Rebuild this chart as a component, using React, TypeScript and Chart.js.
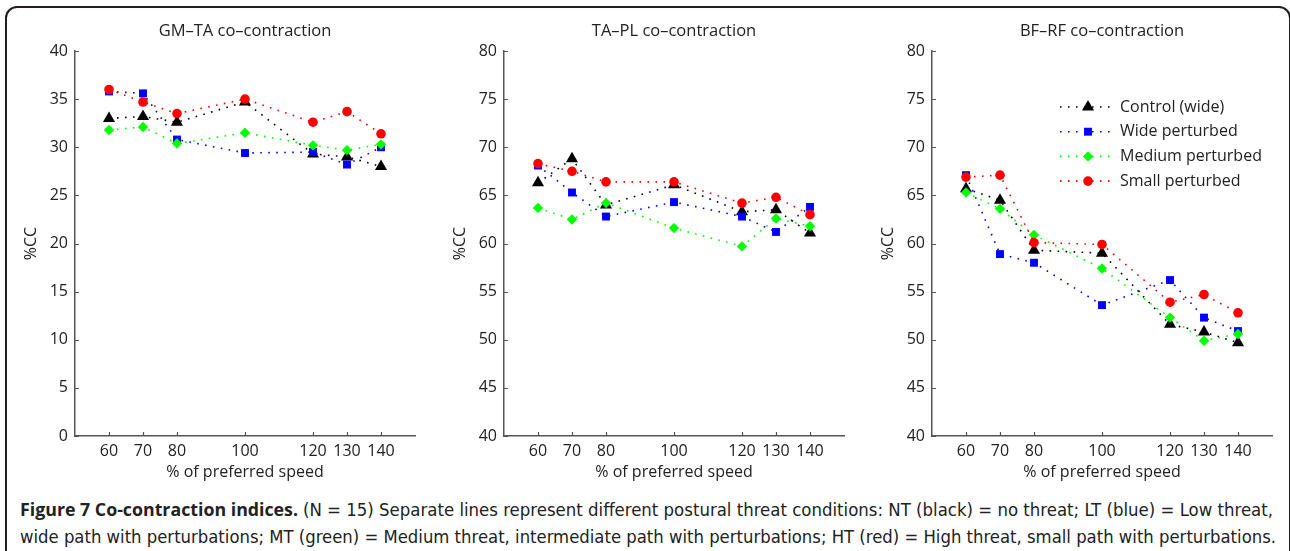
import React, { useEffect, useLayoutEffect, useRef } from 'react';
import { Chart, registerables } from 'chart.js';

Chart.register(...registerables);

// ---------- data ----------
const speeds = [60, 70, 80, 100, 120, 130, 140];
const xTickValues = [60, 70, 80, 100, 120, 130, 140];
const seriesNames = ['Control (wide)', 'Wide perturbed', 'Medium perturbed', 'Small perturbed'];
const panelTitles = ['GM\u2013TA co\u2013contraction', 'TA\u2013PL co\u2013contraction', 'BF\u2013RF co\u2013contraction'];

const gmtaControl = [33.0, 33.2, 32.6, 34.7, 29.3, 29.0, 28.0];
const gmtaWide = [35.8, 35.6, 30.8, 29.4, 29.5, 28.2, 30.0];
const gmtaMedium = [31.8, 32.1, 30.4, 31.5, 30.2, 29.7, 30.3];
const gmtaSmall = [36.0, 34.7, 33.5, 35.0, 32.6, 33.7, 31.4];

const taplControl = [66.3, 68.8, 64.0, 66.1, 63.3, 63.5, 61.1];
const taplWide = [68.1, 65.3, 62.8, 64.3, 62.8, 61.2, 63.8];
const taplMedium = [63.7, 62.5, 64.2, 61.6, 59.7, 62.6, 61.8];
const taplSmall = [68.3, 67.5, 66.4, 66.4, 64.2, 64.8, 63.0];

const bfrfControl = [65.7, 64.5, 59.3, 59.0, 51.6, 50.8, 49.7];
const bfrfWide = [67.1, 58.9, 58.0, 53.6, 56.2, 52.3, 50.9];
const bfrfMedium = [65.3, 63.6, 60.9, 57.4, 52.3, 49.9, 50.6];
const bfrfSmall = [66.9, 67.1, 60.1, 59.9, 53.9, 54.7, 52.8];

const gmtaRange = [0, 40];
const otherRange = [40, 80];

// ---------- styles ----------
const AXIS = '#555555';
const TEXT = '#222222';
const FONT = '"Open Sans", "Noto Sans", sans-serif';
const seriesColors = ['#000000', '#0000ff', '#00ff00', '#ff0000'];
const seriesShapes = ['triangle', 'rect', 'rectRot', 'circle'];
const seriesRadii = [7, 5.6, 5.2, 4.8];
const seriesOrder = [3, 2, 1, 0];

function drawMarker(ctx: CanvasRenderingContext2D, shape: string, x: number, y: number, r: number) {
  ctx.beginPath();
  if (shape === 'triangle') {
    ctx.moveTo(x, y - r);
    ctx.lineTo(x + 0.866 * r, y + 0.5 * r);
    ctx.lineTo(x - 0.866 * r, y + 0.5 * r);
    ctx.closePath();
  } else if (shape === 'rect') {
    const s = Math.SQRT1_2 * r;
    ctx.rect(x - s, y - s, 2 * s, 2 * s);
  } else if (shape === 'rectRot') {
    ctx.moveTo(x - r, y);
    ctx.lineTo(x, y - r);
    ctx.lineTo(x + r, y);
    ctx.lineTo(x, y + r);
    ctx.closePath();
  } else {
    ctx.arc(x, y, r, 0, Math.PI * 2);
  }
  ctx.fill();
}

function decorPlugin(title: string, withLegend: boolean) {
  return {
    id: 'decor',
    afterDraw(chart: any) {
      const ctx: CanvasRenderingContext2D = chart.ctx;
      const { left, right, top, bottom } = chart.chartArea;
      const xs = chart.scales.x;
      const ys = chart.scales.y;
      ctx.save();
      // inward tick marks
      ctx.strokeStyle = AXIS;
      ctx.lineWidth = 1.2;
      ctx.beginPath();
      xs.ticks.forEach((t: any) => {
        const px = Math.round(xs.getPixelForValue(t.value)) + 0.5;
        ctx.moveTo(px, bottom);
        ctx.lineTo(px, bottom - 4);
      });
      ys.ticks.forEach((t: any) => {
        const py = Math.round(ys.getPixelForValue(t.value)) + 0.5;
        ctx.moveTo(left, py);
        ctx.lineTo(left + 4, py);
      });
      ctx.stroke();
      // titles
      ctx.fillStyle = TEXT;
      ctx.textAlign = 'center';
      ctx.textBaseline = 'middle';
      ctx.font = '16.5px ' + FONT;
      ctx.fillText(title, (left + right) / 2, top - 20);
      ctx.font = '16px ' + FONT;
      ctx.fillText('% of preferred speed', (left + right) / 2, bottom + 36);
      ctx.save();
      ctx.translate(left - 44, (top + bottom) / 2);
      ctx.rotate(-Math.PI / 2);
      ctx.fillText('%CC', 0, 0);
      ctx.restore();
      // legend
      if (withLegend) {
        chart.data.datasets.forEach((ds: any, i: number) => {
          const y = top + 56 + i * 24.7;
          ctx.save();
          ctx.strokeStyle = ds.borderColor;
          ctx.lineWidth = 1.6;
          ctx.setLineDash([1.6, 6.4]);
          ctx.beginPath();
          ctx.moveTo(left + 128, y);
          ctx.lineTo(left + 180, y);
          ctx.stroke();
          ctx.restore();
          ctx.fillStyle = ds.backgroundColor;
          drawMarker(ctx, ds.pointStyle, left + 156, y, ds.pointRadius);
          ctx.fillStyle = TEXT;
          ctx.font = '16px ' + FONT;
          ctx.textAlign = 'left';
          ctx.fillText(ds.label, left + 188, y);
        });
      }
      ctx.restore();
    },
  };
}

function makeConfig(title: string, range: number[], series: number[][], withLegend: boolean): any {
  const tickFont = { family: FONT, size: 16 };
  return {
    type: 'line',
    data: {
      datasets: series.map((vals, i) => ({
        label: seriesNames[i],
        data: speeds.map((x, j) => ({ x, y: vals[j] })),
        borderColor: seriesColors[i],
        backgroundColor: seriesColors[i],
        borderWidth: 1.6,
        borderDash: [1.6, 6.4],
        pointStyle: seriesShapes[i],
        pointRadius: seriesRadii[i],
        pointBorderWidth: 0,
        pointBackgroundColor: seriesColors[i],
        order: seriesOrder[i],
        tension: 0,
        fill: false,
      })),
    },
    options: {
      animation: false,
      responsive: false,
      maintainAspectRatio: false,
      events: [],
      layout: { padding: { left: 0, right: 15, top: 51, bottom: 0 } },
      plugins: { legend: { display: false }, tooltip: { enabled: false }, title: { display: false } },
      scales: {
        x: {
          type: 'linear',
          min: 50,
          max: 150,
          afterBuildTicks: (s: any) => {
            s.ticks = xTickValues.map((v) => ({ value: v }));
          },
          afterFit: (s: any) => {
            s.height = 54;
          },
          grid: { display: true, drawOnChartArea: false, drawTicks: false },
          border: { display: true, color: AXIS, width: 1.5 },
          ticks: { padding: 6, color: TEXT, font: tickFont, autoSkip: false, maxRotation: 0 },
        },
        y: {
          type: 'linear',
          min: range[0],
          max: range[1],
          afterFit: (s: any) => {
            s.width = 65;
          },
          grid: { display: true, drawOnChartArea: false, drawTicks: false },
          border: { display: true, color: AXIS, width: 1.5 },
          ticks: { stepSize: 5, padding: 7, color: TEXT, font: tickFont },
        },
      },
    },
    plugins: [decorPlugin(title, withLegend)],
  };
}

function Panel({ left, config }: { left: number; config: () => any }) {
  const ref = useRef<HTMLCanvasElement>(null);
  useEffect(() => {
    if (!ref.current) return;
    const chart = new Chart(ref.current, config());
    return () => chart.destroy();
  }, []);
  return (
    <canvas
      ref={ref}
      width={420}
      height={490}
      style={{ position: 'absolute', left, top: 0, width: 420, height: 490 }}
    />
  );
}

function FitText({ x, y, width, style, children }: any) {
  const ref = useRef<HTMLSpanElement>(null);
  useLayoutEffect(() => {
    const el = ref.current;
    if (!el) return;
    el.style.transform = 'none';
    const w = el.getBoundingClientRect().width;
    if (w > 0) el.style.transform = `scaleX(${width / w})`;
  }, [width]);
  return (
    <span
      ref={ref}
      style={{
        position: 'absolute',
        left: x,
        top: y,
        whiteSpace: 'nowrap',
        transformOrigin: '0 0',
        lineHeight: '20px',
        color: TEXT,
        ...style,
      }}
    >
      {children}
    </span>
  );
}

export default function App() {
  const capRegular = { fontFamily: '"Liberation Sans Narrow", "DejaVu Sans Condensed", "Open Sans", sans-serif', fontSize: 17.5 };
  const capBold = { fontFamily: FONT, fontWeight: 700, fontSize: 18.5 };
  return (
    <div
      style={{
        position: 'absolute',
        left: 0,
        top: 0,
        width: 1290,
        height: 551,
        overflow: 'hidden',
        background: '#ffffff',
      }}
    >
      <div
        style={{
          position: 'absolute',
          left: 5,
          top: 6,
          width: 1286,
          height: 620,
          boxSizing: 'border-box',
          border: '2px solid #231f20',
          borderRadius: 12,
        }}
      />
      <Panel left={10} config={() => makeConfig(panelTitles[0], gmtaRange, [gmtaControl, gmtaWide, gmtaMedium, gmtaSmall], false)} />
      <Panel left={439} config={() => makeConfig(panelTitles[1], otherRange, [taplControl, taplWide, taplMedium, taplSmall], false)} />
      <Panel left={867} config={() => makeConfig(panelTitles[2], otherRange, [bfrfControl, bfrfWide, bfrfMedium, bfrfSmall], true)} />
      <FitText x={20} y={499} width={278} style={capBold}>
        Figure 7 Co-contraction indices.
      </FitText>
      <FitText x={303} y={500} width={970} style={capRegular}>
        (N = 15) Separate lines represent different postural threat conditions: NT (black) = no threat; LT (blue) = Low threat,
      </FitText>
      <FitText x={20} y={527} width={1256} style={capRegular}>
        wide path with perturbations; MT (green) = Medium threat, intermediate path with perturbations; HT (red) = High threat, small path with perturbations.
      </FitText>
    </div>
  );
}
